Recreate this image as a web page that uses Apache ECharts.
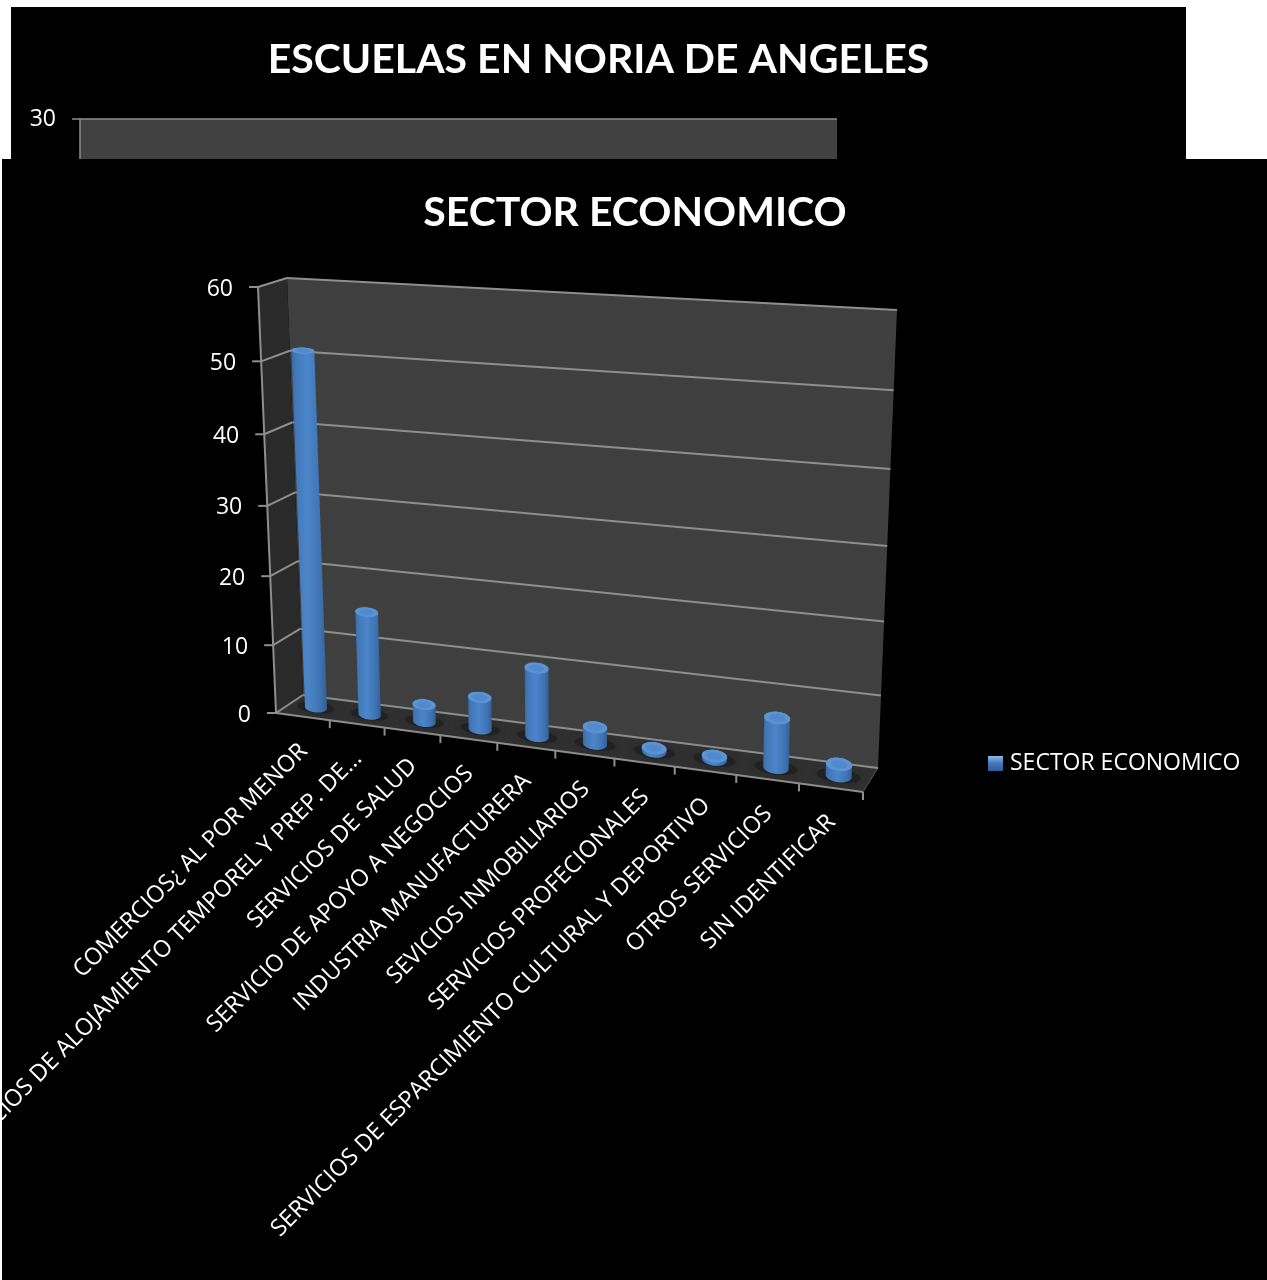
<!DOCTYPE html>
<html><head><meta charset="utf-8">
<style>
html,body{margin:0;padding:0;background:#fff;width:1267px;height:1280px;overflow:hidden}
#top{position:absolute;left:11px;top:7px;width:1175px;height:152px;background:#000}
#main{position:absolute;left:2px;top:159px;width:1265px;height:1121px;background:#000}
</style>
<script src="https://cdn.jsdelivr.net/npm/echarts@6/dist/echarts.min.js"></script>
</head><body>
<div id="top"></div><div id="main"></div>
<script>
const topTitle = 'ESCUELAS EN NORIA DE ANGELES';
const topTicks = [0, 30];
const mainTitle = 'SECTOR ECONOMICO';
const seriesName = 'SECTOR ECONOMICO';
const categories = ['COMERCIOS¿ AL POR MENOR','SERVICIOS DE ALOJAMIENTO TEMPOREL Y PREP. DE...','SERVICIOS DE SALUD','SERVICIO DE APOYO A NEGOCIOS','INDUSTRIA MANUFACTURERA','SEVICIOS INMOBILIARIOS','SERVICIOS PROFECIONALES','SERVICIOS DE ESPARCIMIENTO CULTURAL Y DEPORTIVO','OTROS SERVICIOS','SIN IDENTIFICAR'];
const values = [51, 15, 2.5, 4.6, 9.8, 2.4, 0.5, 0.5, 6.9, 1.6];
const yTicks = [0, 10, 20, 30, 40, 50, 60];

const FONT = '"Open Sans"';
const TITLE_FONT = 'Lato';
const GRID = {left: 100, top: 100, width: 500, height: 500};
const OX = 2, OY = 159;
function c(x, y){ return [x - OX, y - OY]; }
// perspective frame: [bottom-left, bottom-right, top-right, top-left]
const BACK = [c(303,695), c(878,768), c(897,310), c(287,278)];
const FRONT = [c(276,713), c(863,792), c(880,325), c(258,287)];

function homog(q, u, v){
  const [x0,y0]=q[0],[x1,y1]=q[1],[x2,y2]=q[2],[x3,y3]=q[3];
  const dx1=x1-x2,dx2=x3-x2,sx=x0-x1+x2-x3,dy1=y1-y2,dy2=y3-y2,sy=y0-y1+y2-y3;
  const den=dx1*dy2-dx2*dy1;
  const g=(sx*dy2-dx2*sy)/den,h=(dx1*sy-sx*dy1)/den;
  const a=x1-x0+g*x1,b=x3-x0+h*x3,d=y1-y0+g*y1,e=y3-y0+h*y3;
  const w=g*u+h*v+1;
  return [(a*u+b*v+x0)/w,(d*u+e*v+y0)/w];
}
function P(u, v, d){
  const q=BACK.map((p,i)=>[p[0]+(FRONT[i][0]-p[0])*d,p[1]+(FRONT[i][1]-p[1])*d]);
  return homog(q,u,v);
}
function norm(api, idx, val){
  const p=api.coord([idx,val]);
  return [(p[0]-GRID.left)/GRID.width,(GRID.top+GRID.height-p[1])/GRID.height];
}
function line(a,b,color,w){
  return {type:'line',shape:{x1:a[0],y1:a[1],x2:b[0],y2:b[1]},style:{stroke:color,lineWidth:w},silent:true};
}
function poly(points,fill,extra){
  return {type:'polygon',shape:{points},style:Object.assign({fill},extra||{}),silent:true};
}
function hull(pts){
  const s=pts.slice().sort((a,b)=>a[0]-b[0]||a[1]-b[1]);
  const cr=(o,a,b)=>(a[0]-o[0])*(b[1]-o[1])-(a[1]-o[1])*(b[0]-o[0]);
  const lo=[],up=[];
  for(const p of s){while(lo.length>1&&cr(lo[lo.length-2],lo[lo.length-1],p)<=0)lo.pop();lo.push(p);}
  for(const p of s.slice().reverse()){while(up.length>1&&cr(up[up.length-2],up[up.length-1],p)<=0)up.pop();up.push(p);}
  return lo.slice(0,-1).concat(up.slice(0,-1));
}
// projected cylinder cross-section; depth tilt is damped so the ellipse stays nearly level
function disc(u,v,ru,rd){
  const C=P(u,v,.5),A=P(u+ru,v,.5),D=P(u,v,.5+rd),out=[];
  const ax=[A[0]-C[0],A[1]-C[1]],dy=D[1]-C[1],dx=(D[0]-C[0])*.15;
  for(let i=0;i<40;i++){const t=i/40*Math.PI*2,co=Math.cos(t),si=Math.sin(t);
    out.push([C[0]+ax[0]*co+dx*si,C[1]+ax[1]*co+dy*si]);}
  return out;
}
const GRAY='#8e8e8e';

const topChart=echarts.init(document.getElementById('top'));
topChart.setOption({
  animation:false,backgroundColor:'#000',
  title:{text:topTitle,left:'center',top:27,textStyle:{color:'#fff',fontFamily:TITLE_FONT,fontWeight:'bold',fontSize:41}},
  grid:{left:69,top:112,width:757,height:400,show:true,backgroundColor:'#414141',borderWidth:0},
  xAxis:{type:'category',data:categories,show:false},
  yAxis:{type:'value',min:topTicks[0],max:topTicks[1],interval:30,
    axisLabel:{color:'#fff',fontFamily:FONT,fontSize:23,margin:24,verticalAlign:'middle',padding:[2,0,0,0]},
    axisLine:{show:true,lineStyle:{color:GRAY,width:1.5}},
    axisTick:{show:true,length:8,lineStyle:{color:GRAY,width:1.5}},
    splitLine:{show:true,lineStyle:{color:GRAY,width:1.5}}},
  series:[{type:'bar',data:[],silent:true}]
});

const main=echarts.init(document.getElementById('main'));
const legendFill=new echarts.graphic.LinearGradient(0,0,0,1,[{offset:0,color:'#8cbcec'},{offset:.5,color:'#4278b8'},{offset:1,color:'#2f5f98'}]);
main.setOption({
  animation:false,backgroundColor:'#000',
  title:{text:mainTitle,left:630-OX,top:28,textAlign:'center',textStyle:{color:'#fff',fontFamily:TITLE_FONT,fontWeight:'bold',fontSize:41}},
  legend:{data:[{name:seriesName,icon:'rect',itemStyle:{color:legendFill}}],left:983-OX,top:588,itemWidth:15,itemHeight:15,itemGap:6,
    selectedMode:false,textStyle:{color:'#fff',fontFamily:FONT,fontSize:23,padding:[2,0,0,2]}},
  grid:GRID,
  xAxis:{type:'category',data:categories,show:false},
  yAxis:{type:'value',min:0,max:60,interval:10,show:false},
  series:[
    {type:'custom',name:'walls',z:1,silent:true,data:[[0,0]],renderItem(){
      const fl=[P(0,0,0),P(1,0,0),P(1,0,1),P(0,0,1)];
      const back=[P(0,0,0),P(1,0,0),P(1,1,0),P(0,1,0)];
      const side=[P(0,0,0),P(0,0,1),P(0,1,1),P(0,1,0)];
      return {type:'group',children:[
        poly(back,'#3f3f3f'),poly(side,'#2a2a2a'),poly(fl,'#303030'),
        line(P(0,0,1),P(1,0,1),GRAY,2),line(P(1,0,0),P(1,0,1),'#555',1),
        line(P(0,0,1),P(0,1,1),GRAY,2)
      ]};
    }},
    {type:'custom',name:'yGrid',z:2,silent:true,data:yTicks.map(v=>[0,v]),renderItem(p,api){
      const val=api.value(1), n=norm(api,0,val), v=n[1];
      const f=P(0,v,1);
      return {type:'group',children:[
        line(P(0,v,0),P(1,v,0),GRAY,2),
        line(P(0,v,0),f,GRAY,2),
        line([f[0]-9,f[1]],f,GRAY,2),
        {type:'text',x:f[0]-25,y:f[1]+2,style:{text:String(val),fill:'#fff',font:'23px '+FONT,align:'right',verticalAlign:'middle'},silent:true}
      ]};
    }},
    {type:'custom',name:'xTicks',z:2,silent:true,data:categories.map((n,i)=>[n,0]),renderItem(p,api){
      const i=api.value(0), kids=[];
      const t=P((i+1)/categories.length,0,1);
      kids.push(line(t,[t[0],t[1]+8],GRAY,2));
      const u=norm(api,i,0)[0], a=P(u,0,1);
      kids.push({type:'text',x:a[0]+1,y:a[1]+31,rotation:Math.PI/4,
        style:{text:categories[i],fill:'#fff',font:'23.4px '+FONT,align:'right',verticalAlign:'middle'},silent:true});
      return {type:'group',children:kids};
    }},
    {type:'custom',name:seriesName,z:3,silent:true,
      data:categories.map((n,i)=>[n,values[i]]),
      renderItem(p,api){
        const i=api.value(0),val=api.value(1);
        const b=norm(api,i,0),t=norm(api,i,val);
        const u=b[0],RU=.0205,RD=.27;
        const bot=disc(u,0,RU,RD),top=disc(u,t[1],RU,RD),inner=disc(u,t[1],RU*.62,RD*.55);
        return {type:'group',children:[
          poly(disc(u,0,RU*1.7,RD*1.1),'rgba(0,0,0,.25)',{shadowBlur:14,shadowColor:'rgba(0,0,0,.7)'}),
          poly(hull(bot.concat(top)),new echarts.graphic.LinearGradient(0,0,1,0,[
            {offset:0,color:'#38699f'},{offset:.12,color:'#4278b8'},{offset:.45,color:'#4b85c9'},{offset:.8,color:'#3e74b4'},{offset:1,color:'#315f95'}])),
          poly(top,'#5c94d4',{shadowBlur:1,shadowColor:'#5c94d4'}),
          poly(inner,'#5089cc',{shadowBlur:3,shadowColor:'#5089cc'})
        ]};
      }}
  ]
});
</script>
</body></html>
